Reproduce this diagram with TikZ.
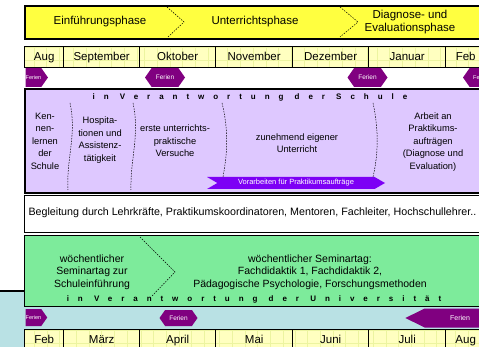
\documentclass[tikz,border=0pt]{standalone}
\usepackage{fontspec}
\setmainfont{Liberation Sans}
\usetikzlibrary{matrix,positioning,shapes.symbols}

\definecolor{phaseyellow}{RGB}{255,255,64}
\definecolor{monthyellow}{RGB}{255,255,192}
\definecolor{monthgrid}{RGB}{236,244,160}
\definecolor{schoollilac}{RGB}{222,200,255}
\definecolor{prepviolet}{RGB}{125,0,245}
\definecolor{ferienpurple}{RGB}{128,0,128}
\definecolor{seminargreen}{RGB}{125,235,155}
\definecolor{unicyan}{RGB}{185,225,228}

\begin{document}
\begin{tikzpicture}
  [x=1pt,y=-1pt,
   phase/.style={align=center,font=\fontsize{11.5}{13}\selectfont},
   month/.style={draw,fill=monthyellow,line width=1pt,minimum height=21pt,inner sep=0pt,
     text height=8.5pt,text depth=2.5pt,font=\fontsize{11.5}{13}\selectfont,
     path picture={\draw[monthgrid,line width=0.4pt,step=12.7pt]
       (path picture bounding box.south west) grid (path picture bounding box.north east);}},
   panel/.style={draw,line width=1.3pt,inner sep=0pt,anchor=north west,minimum width=459pt},
   activity/.style={align=center,font=\fontsize{9.3}{12.5}\selectfont},
   seminar/.style={align=center,font=\fontsize{10.5}{12.5}\selectfont},
   spaced/.style={font=\fontsize{8}{9}\selectfont\bfseries\addfontfeature{LetterSpace=112}},
   ferien/.style={signal,fill=ferienpurple,text=white,inner sep=0pt,minimum height=19pt,
     signal pointer angle=110,font=\fontsize{6.5}{7}\selectfont},
   smallferien/.style={ferien,font=\fontsize{5.5}{6}\selectfont},
   divider/.style={line width=0.5pt,dash pattern=on 1.5pt off 1.2pt}]

  \clip (0,0) rectangle (479,347);

  % phases
  \node[panel,fill=phaseyellow,line width=1.8pt,minimum height=33pt] (phases) at (24,5) {};
  \node[phase] (intro) at (100,22) {Einführungsphase};
  \node[phase] (teaching) at (255,22) {Unterrichtsphase};
  \node[phase] (diagnosis) at (410,22) {Diagnose- und\\Evaluationsphase};
  \draw[divider] (167,7) -- (184,22) -- (168,37);
  \draw[divider] (340,7) -- (358,22) -- (340,37);

  % winter term months
  \matrix (winter) [matrix of nodes,nodes={month},column sep=-1pt,inner sep=0pt,anchor=north west,
    column 1/.style={nodes={minimum width=39pt}},
    column 2/.style={nodes={minimum width=76pt}},
    column 3/.style={nodes={minimum width=76pt}},
    column 4/.style={nodes={minimum width=77pt}},
    column 5/.style={nodes={minimum width=76pt}},
    column 6/.style={nodes={minimum width=77pt}},
    column 7/.style={nodes={minimum width=40pt}}] at (24,46) {
    Aug & September & Oktober & November & Dezember & Januar & Feb\\
  };

  \node[smallferien,signal to=east,minimum width=19pt] (ferienA) at (33.5,77.5) {Ferien};
  \node[ferien,signal to=east and west,minimum width=40pt] (ferienB) at (165,77.5) {Ferien};
  \node[ferien,signal to=east and west,minimum width=40pt] (ferienC) at (367.5,77.5) {Ferien};
  \node[smallferien,signal to=east and west,minimum width=36pt] (ferienD) at (481,77.5) {Ferien};

  % school
  \node[panel,fill=schoollilac,line width=1.6pt,minimum height=104pt] (school) at (24,88) {};
  \node[spaced] (schooltitle) at (250,97) {in Verantwortung der Schule};
  \node[signal,signal from=west,signal to=east,signal pointer angle=60,fill=prepviolet,
    text=white,inner sep=0pt,minimum width=178pt,minimum height=12pt,
    font=\fontsize{7.5}{8}\selectfont] (prep) at (296,183) {Vorarbeiten für Praktikumsaufträge};
  \draw[divider] (70,103) .. controls (77,135) and (66,160) .. (68,190);
  \draw[divider] (133,103) .. controls (140,135) and (130,160) .. (131,190);
  \draw[divider] (222,103) .. controls (230,135) and (226,160) .. (223,177);
  \draw[divider] (373,103) .. controls (380,135) and (377,160) .. (373,177);
  \node[activity] (meet) at (45,141) {Ken-\\nen-\\lernen\\der\\Schule};
  \node[activity] (observe) at (100,140) {Hospita-\\tionen und\\Assistenz-\\tätigkeit};
  \node[activity] (first) at (175,141) {erste unterrichts-\\praktische\\Versuche};
  \node[activity] (own) at (297,143) {zunehmend eigener\\Unterricht};
  \node[activity] (tasks) at (433,142) {Arbeit an\\Praktikums-\\aufträgen\\(Diagnose und\\Evaluation)};

  % mentors
  \node[panel,fill=white,line width=1.2pt,minimum height=37pt] (mentors) at (24,195) {};
  \node[anchor=west,font=\fontsize{10.7}{12}\selectfont] (mentortext) at (25,213)
    {Begleitung durch Lehrkräfte, Praktikumskoordinatoren, Mentoren, Fachleiter, Hochschullehrer..};

  % university
  \draw[line width=1.2pt,fill=unicyan] (-2,291) rectangle (485,352);
  \node[panel,fill=seminargreen,line width=1.3pt,minimum height=71pt] (uni) at (24,235) {};
  \draw[divider] (140,237) -- (175,272) -- (152,296);
  \node[seminar] (seminarA) at (92,272) {wöchentlicher\\Seminartag zur\\Schuleinführung};
  \node[seminar] (seminarB) at (310,272)
    {wöchentlicher Seminartag:\\Fachdidaktik 1, Fachdidaktik 2,\\Pädagogische Psychologie, Forschungsmethoden};
  \node[spaced] (unititle) at (254,299) {in Verantwortung der Universität};

  \node[smallferien,signal to=east,minimum width=19pt,minimum height=17pt] (ferienE) at (33.5,317.5) {Ferien};
  \node[ferien,signal to=east and west,minimum width=38pt,minimum height=16pt] (ferienF) at (178.5,318) {Ferien};
  \node[ferien,signal to=west,signal pointer angle=53,minimum width=90pt,
    font=\fontsize{7}{8}\selectfont] (ferienG) at (460,318) {Ferien};

  % summer term months
  \matrix (summer) [matrix of nodes,nodes={month},column sep=-1pt,inner sep=0pt,anchor=north west,
    column 1/.style={nodes={minimum width=39pt}},
    column 2/.style={nodes={minimum width=76pt}},
    column 3/.style={nodes={minimum width=76pt}},
    column 4/.style={nodes={minimum width=77pt}},
    column 5/.style={nodes={minimum width=76pt}},
    column 6/.style={nodes={minimum width=77pt}},
    column 7/.style={nodes={minimum width=40pt}}] at (24,329) {
    Feb & März & April & Mai & Juni & Juli & Aug\\
  };
\end{tikzpicture}
\end{document}
